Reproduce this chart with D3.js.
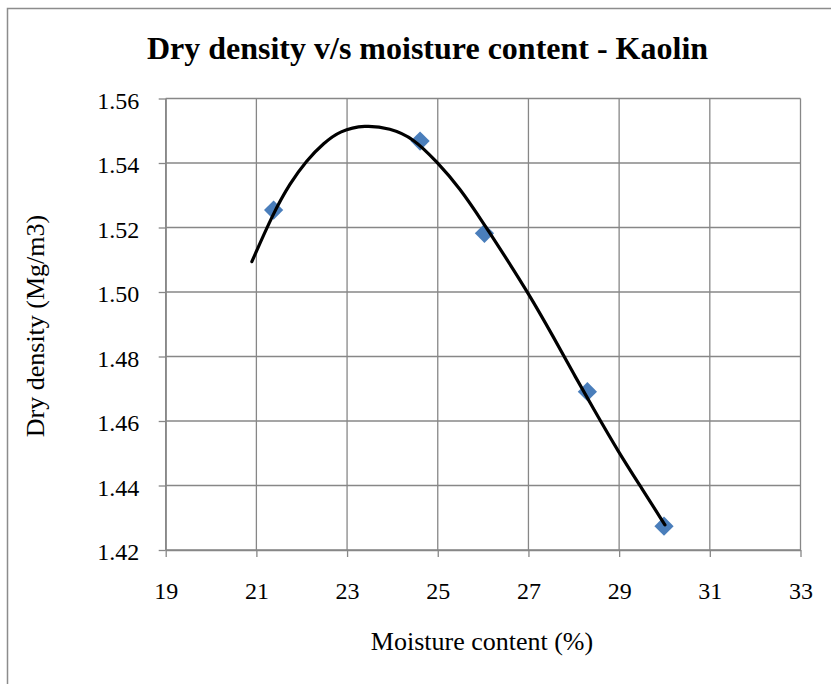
<!DOCTYPE html>
<html>
<head>
<meta charset="utf-8">
<script src="https://cdn.jsdelivr.net/npm/d3@7"></script>
<style>
  html, body { margin: 0; padding: 0; background: #fff; }
  svg { display: block; }
  text { font-family: "Liberation Serif", "Times New Roman", serif; fill: #000; }
</style>
</head>
<body>
<svg id="chart" width="831" height="684"></svg>
<script>
// Measured points: moisture content (%) and dry density (Mg/m3)
const moisture = [21.38, 24.61, 26.03, 28.30, 29.99];
const dryDensity = [1.5254, 1.5468, 1.5182, 1.4691, 1.4274];

// Trend curve traced through the compaction results
const trendMoisture = [20.90, 21.37, 21.74, 22.11, 22.48, 22.84, 23.39, 23.95, 24.46, 24.98,
                       25.49, 26.00, 26.44, 27.00, 27.55, 27.99, 28.43, 28.98, 29.50, 30.01];
const trendDensity  = [1.5094, 1.5244, 1.5337, 1.5409, 1.5461, 1.5500, 1.5518, 1.5508, 1.5477, 1.5404,
                       1.5322, 1.5215, 1.5120, 1.4996, 1.4861, 1.4748, 1.4639, 1.4505, 1.4391, 1.4278];

const xTicks = [19, 21, 23, 25, 27, 29, 31, 33];
const yTicks = [1.42, 1.44, 1.46, 1.48, 1.50, 1.52, 1.54, 1.56];

const titleText = "Dry density v/s moisture content - Kaolin";
const xTitle = "Moisture content (%)";
const yTitle = "Dry density (Mg/m3)";

const svg = d3.select("#chart");
const gridColor = "#878787";

const plot = { left: 165.7, right: 800.5, top: 98.5, bottom: 550 };

const x = d3.scaleLinear().domain([19, 33]).range([plot.left, plot.right]);
const y = d3.scaleLinear().domain([1.42, 1.56]).range([plot.bottom, plot.top]);

// Outer chart frame (open at right and bottom edges of the page)
svg.append("path")
  .attr("d", "M7.5,684 L7.5,8.5 L831,8.5")
  .attr("fill", "none")
  .attr("stroke", "#8c8c8c")
  .attr("stroke-width", 1.5);

// Title
svg.append("text")
  .attr("x", 427.5)
  .attr("y", 58.5)
  .attr("text-anchor", "middle")
  .attr("font-size", 32)
  .attr("font-weight", "bold")
  .text(titleText);

// Gridlines
const grid = svg.append("g");
grid.selectAll("line.v").data(xTicks).join("line")
  .attr("class", "v")
  .attr("x1", d => x(d)).attr("x2", d => x(d))
  .attr("y1", plot.top).attr("y2", plot.bottom)
  .attr("stroke", gridColor).attr("stroke-width", 1.3);
grid.selectAll("line.h").data(yTicks).join("line")
  .attr("class", "h")
  .attr("x1", plot.left).attr("x2", plot.right)
  .attr("y1", d => y(d)).attr("y2", d => y(d))
  .attr("stroke", gridColor).attr("stroke-width", 1.3);

// Axes
const xAxis = svg.append("g")
  .attr("transform", `translate(0,${plot.bottom})`)
  .call(d3.axisBottom(x).tickValues(xTicks).tickFormat(d3.format("d")).tickSizeInner(7).tickSizeOuter(0).tickPadding(25));
const yAxis = svg.append("g")
  .attr("transform", `translate(${plot.left},0)`)
  .call(d3.axisLeft(y).tickValues(yTicks).tickFormat(d3.format(".2f")).tickSizeInner(7).tickSizeOuter(0).tickPadding(19.5));

[xAxis, yAxis].forEach(g => {
  g.select(".domain").attr("stroke", gridColor).attr("stroke-width", 1.3);
  g.selectAll(".tick line").attr("stroke", gridColor).attr("stroke-width", 1.3);
  g.selectAll(".tick text")
    .style("font-family", "'Liberation Serif', 'Times New Roman', serif")
    .attr("font-size", 24)
    .attr("fill", "#000");
});
yAxis.selectAll(".tick text").attr("dy", "0.4em");

// Axis titles
svg.append("text")
  .attr("x", 482)
  .attr("y", 650)
  .attr("text-anchor", "middle")
  .attr("font-size", 26)
  .text(xTitle);

svg.append("text")
  .attr("transform", "translate(44,326) rotate(-90)")
  .attr("text-anchor", "middle")
  .attr("font-size", 26)
  .text(yTitle);

// Data markers (blue diamonds)
const pts = moisture.map((m, i) => ({ m, d: dryDensity[i] }));
const diamond = d3.symbol().type(d3.symbolSquare).size(185);
svg.append("g").selectAll("path").data(pts).join("path")
  .attr("d", diamond)
  .attr("transform", p => `translate(${x(p.m)},${y(p.d)}) rotate(45)`)
  .attr("fill", "#4a7ebb");

// Trend curve
const trend = trendMoisture.map((m, i) => ({ m, d: trendDensity[i] }));
svg.append("path")
  .datum(trend)
  .attr("d", d3.line().x(p => x(p.m)).y(p => y(p.d)).curve(d3.curveBasis))
  .attr("fill", "none")
  .attr("stroke", "#000")
  .attr("stroke-width", 3.2)
  .attr("stroke-linecap", "round");
</script>
</body>
</html>
